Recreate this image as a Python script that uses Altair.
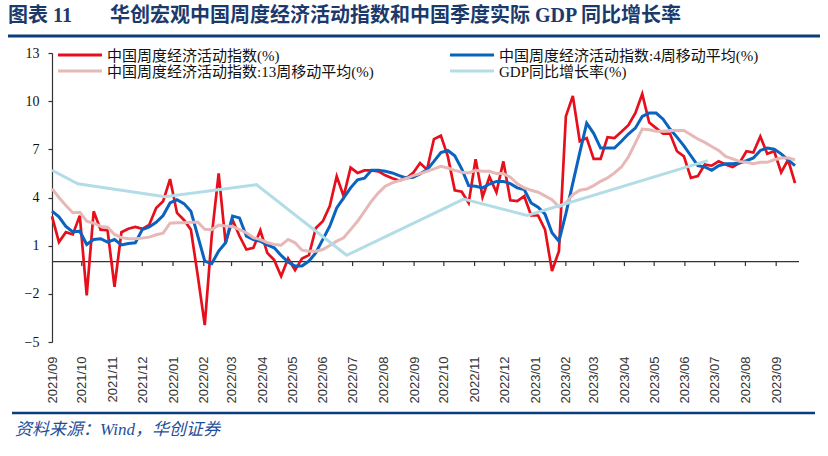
import altair as alt
import pandas as pd

# ---------------- data ----------------
SERIES = ["中国周度经济活动指数(%)", "中国周度经济活动指数:13周移动平均(%)",
          "中国周度经济活动指数:4周移动平均(%)", "GDP同比增长率(%)"]
COLORS = ["#E60F1B", "#E6B9B8", "#0A63BE", "#B2DDE7"]
DRAW_ORDER = [0, 2, 1, 3]
WIDTHS = [2.7, 3.0, 3.0, 3.0]

week_start = "2021-09-01"

red = [2.83, 1.22, 1.84, 1.70, 2.87, -2.10, 3.14, 2.00, 1.96, -1.56,
       1.84, 2.05, 2.17, 2.05, 2.30, 3.35, 3.76, 5.15, 3.04, 2.60,
       2.00, -0.90, -3.95, 1.60, 5.50, 1.17, 2.60, 1.60, 0.76, 0.86,
       1.96, 0.55, 0.10, -0.90, 0.20, -0.52, 0.20, 0.41, 2.10, 2.52,
       3.46, 5.32, 4.08, 5.86, 5.53, 5.69, 5.69, 5.63, 5.38, 5.20,
       5.05, 5.20, 5.53, 6.15, 5.73, 7.64, 7.85, 6.56, 4.45, 4.36,
       3.66, 6.39, 4.03, 5.28, 4.32, 6.25, 3.83, 3.77, 4.08, 2.88,
       2.88, 2.00, -0.58, 0.66, 9.05, 10.33, 7.50, 7.70, 6.40, 6.40,
       7.76, 7.70, 8.10, 8.50, 9.25, 10.45, 8.67, 8.32, 7.97, 7.97,
       6.88, 6.56, 5.22, 5.33, 6.05, 5.98, 6.25, 6.05, 5.90, 6.15,
       6.88, 6.80, 7.80, 6.72, 6.88, 5.57, 6.35, 4.90]

blue = [3.15, 2.80, 2.20, 1.85, 1.90, 1.07, 1.38, 1.43, 1.22, 1.38,
        1.05, 1.14, 1.18, 2.00, 2.17, 2.46, 2.88, 3.66, 3.87, 3.62,
        3.15, 1.59, 0.04, -0.12, 0.66, 1.18, 2.84, 2.73, 1.59, 1.38,
        1.28, 1.05, 0.87, 0.39, -0.02, -0.27, -0.27, 0.04, 0.56, 1.39,
        2.21, 3.35, 3.97, 4.60, 5.10, 5.20, 5.69, 5.69, 5.63, 5.53,
        5.36, 5.22, 5.26, 5.47, 5.73, 6.25, 6.80, 6.93, 6.60, 5.78,
        4.74, 4.70, 4.60, 4.84, 5.00, 5.00, 4.86, 4.60, 4.49, 3.66,
        3.40, 2.96, 1.80, 1.28, 3.00, 4.90, 6.80, 8.63, 8.00, 7.08,
        7.08, 7.08, 7.50, 7.95, 8.32, 9.05, 9.26, 9.26, 8.88, 8.26,
        7.76, 7.22, 6.60, 5.98, 5.90, 5.69, 5.98, 6.10, 6.10, 6.15,
        6.29, 6.46, 6.93, 7.08, 7.01, 6.72, 6.35, 5.98]

pink = [4.55, 4.00, 3.50, 3.05, 3.08, 2.52, 2.40, 2.20, 2.15, 1.70,
        1.50, 1.43, 1.43, 1.47, 1.53, 1.68, 1.78, 2.40, 2.42, 2.43,
        2.46, 2.46, 2.02, 2.00, 2.28, 2.22, 2.20, 2.00, 1.80, 1.50,
        1.38, 1.20, 1.08, 1.03, 1.39, 1.18, 0.72, 0.66, 0.66, 0.76,
        1.01, 1.28, 1.49, 2.00, 2.52, 3.14, 3.77, 4.29, 4.70, 4.91,
        5.05, 5.18, 5.36, 5.49, 5.63, 5.78, 5.94, 5.84, 5.69, 5.57,
        5.53, 5.69, 5.63, 5.63, 5.49, 5.49, 5.26, 4.86, 4.60, 4.45,
        4.33, 4.10, 3.87, 3.42, 3.66, 4.18, 4.45, 4.53, 4.74, 5.01,
        5.22, 5.53, 5.90, 6.52, 7.39, 8.26, 8.22, 8.12, 8.12, 8.18,
        8.18, 8.18, 7.91, 7.64, 7.43, 7.18, 6.93, 6.56, 6.40, 6.25,
        6.19, 6.10, 6.19, 6.19, 6.35, 6.46, 6.46, 6.35]

gdp_dates = ["2021-09-01", "2021-09-27", "2021-12-24", "2022-03-26",
             "2022-06-25", "2022-10-21", "2022-12-24", "2023-06-24"]
gdp_vals = [5.70, 4.85, 4.05, 4.80, 0.40, 3.90, 2.88, 6.30]

tick_labels = ["2021/09", "2021/10", "2021/11", "2021/12", "2022/01", "2022/02",
               "2022/03", "2022/04", "2022/05", "2022/06", "2022/07", "2022/08",
               "2022/09", "2022/10", "2022/11", "2022/12", "2023/01", "2023/02",
               "2023/03", "2023/04", "2023/05", "2023/06", "2023/07", "2023/08",
               "2023/09"]
y_ticks = [-5, -2, 1, 4, 7, 10, 13]

TITLE_A = "图表 11"
TITLE_B = "华创宏观中国周度经济活动指数和中国季度实际 GDP 同比增长率"
SOURCE = "资料来源：Wind，华创证券"

# ---------------- tables ----------------
weeks = pd.date_range(week_start, periods=len(red), freq="7D")
rows = []
for s, vals in zip([SERIES[0], SERIES[2], SERIES[1]], [red, blue, pink]):
    for d, v in zip(weeks, vals):
        rows.append({"series": s, "date": d.strftime("%Y-%m-%dT00:00:00"), "value": v})
for d, v in zip(gdp_dates, gdp_vals):
    rows.append({"series": SERIES[3], "date": d + "T00:00:00", "value": v})
df = pd.DataFrame(rows)

tick_df = pd.DataFrame({"date": [t.replace("/", "-") + "-01T00:00:00" for t in tick_labels[1:]]})
one = pd.DataFrame({"k": [0]})

def dt(label, day=1):
    y, m = label.split("/")
    return alt.DateTime(year=int(y), month=int(m), date=day)

W, H = 747, 289
SERIF = "'Liberation Serif', 'Noto Sans CJK SC'"
NAVY = "#1B3A6B"
AXC = "#333333"

xscale = alt.Scale(domain=[dt("2021/09"), dt("2023/09", 24)])
yscale = alt.Scale(domain=[-5, 13], nice=False, zero=False)

xaxis = alt.Axis(values=[dt(t) for t in tick_labels], format="%Y/%m", labelAngle=270,
                 title=None, domain=False, ticks=False, grid=False, labelPadding=14,
                 labelFont="Liberation Sans", labelFontSize=13, labelColor="#333333",
                 labelOverlap=False, labelFlush=False, labelBound=False)
yaxis = alt.Axis(values=y_ticks, title=None, grid=False, tickSize=4, labelPadding=9,
                 domainColor=AXC, tickColor=AXC, domainWidth=1.2, tickWidth=1.2,
                 labelFont="Liberation Serif", labelFontSize=14, labelColor="#111111")

color = alt.Color("series:N", scale=alt.Scale(domain=SERIES, range=COLORS), legend=None)
x_enc = alt.X("date:T", scale=xscale, axis=xaxis)

layers = []

# zero line and month ticks on it
layers.append(alt.Chart(one).mark_rule(color=AXC, strokeWidth=1.3).encode(
    x=alt.value(0), x2=alt.value(W), y=alt.datum(0)))
layers.append(alt.Chart(tick_df).mark_rule(color=AXC, strokeWidth=1.2).encode(
    x=x_enc, y=alt.datum(0), y2=alt.datum(-0.27)))

for k in DRAW_ORDER:
    s = SERIES[k]
    layers.append(alt.Chart(df).transform_filter(alt.datum.series == s).mark_line(
        strokeWidth=WIDTHS[k]).encode(
        x=x_enc,
        y=alt.Y("value:Q", scale=yscale, axis=yaxis),
        color=color))

# legend (two columns: left = raw, 13-week; right = 4-week, GDP)
LEG_POS = [(6, 2), (6, 18), (398, 2), (398, 18)]
for k, (lx, ly) in enumerate(LEG_POS):
    layers.append(alt.Chart(one).mark_rule(color=COLORS[k], strokeWidth=3.2).encode(
        x=alt.value(lx), x2=alt.value(lx + 44), y=alt.value(ly)))
    layers.append(alt.Chart(one).mark_text(text=SERIES[k], align="left", baseline="middle",
                                           font=SERIF, fontSize=15, color="#111111").encode(
        x=alt.value(lx + 49), y=alt.value(ly + 1)))

# title, rules and source text
layers.append(alt.Chart(one).mark_text(text=TITLE_A, align="left", baseline="middle", font=SERIF,
                                       fontSize=20, fontWeight="bold", color=NAVY).encode(
    x=alt.value(-44), y=alt.value(-37)))
layers.append(alt.Chart(one).mark_text(text=TITLE_B, align="left", baseline="middle", font=SERIF,
                                       fontSize=20, fontWeight="bold", color=NAVY).encode(
    x=alt.value(58), y=alt.value(-37)))
layers.append(alt.Chart(one).mark_rule(color="#0B3C7D", strokeWidth=3).encode(
    x=alt.value(-44), x2=alt.value(768), y=alt.value(-17)))
layers.append(alt.Chart(one).mark_rule(color="#0B3C7D", strokeWidth=2.5).encode(
    x=alt.value(-40), x2=alt.value(763), y=alt.value(360)))
layers.append(alt.Chart(one).mark_text(text=SOURCE, align="left", baseline="middle", font=SERIF,
                                       fontSize=17, fontStyle="italic", color="#1F4E9A").encode(
    x=alt.value(-37), y=alt.value(377)))

chart = alt.layer(*layers).properties(
    width=W, height=H,
    autosize=alt.AutoSizeParams(type="none"),
    padding={"left": 52, "top": 53, "right": 29, "bottom": 114},
    background="white",
).configure_view(stroke=None)

chart.save("out.html", embed_options={"renderer": "svg", "actions": False})
